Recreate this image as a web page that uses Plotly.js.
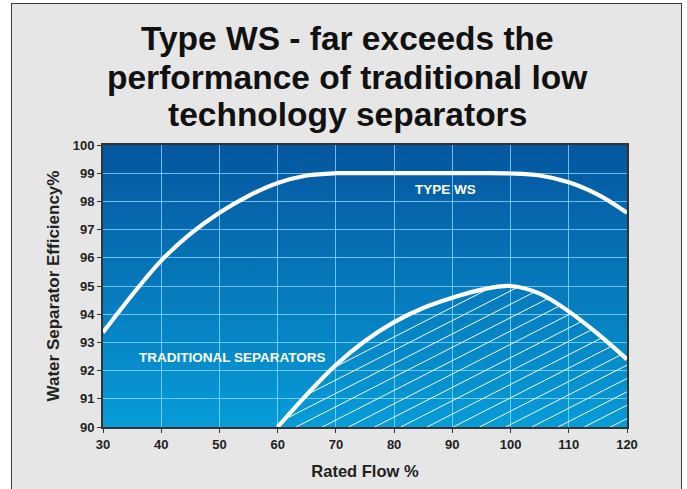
<!DOCTYPE html>
<html>
<head>
<meta charset="utf-8">
<script src="https://cdn.plot.ly/plotly-3.0.1.min.js"></script>
<style>
  html, body { margin: 0; padding: 0; background: #ffffff; overflow: hidden; }
  #frame { position: absolute; left: 11px; top: 3px; width: 671px; height: 520px;
           background: #e6e6e6; border: 1.5px solid #3a3a3a; box-sizing: border-box; }
  #chart { position: absolute; left: 0; top: 0; width: 687px; height: 489px; }
</style>
</head>
<body>
<div id="frame"></div>
<div id="chart"></div>
<script>
// ---- data ----
const titleLines = ["Type WS - far exceeds the", "performance of traditional low", "technology separators"];
const xAxisTitle = "Rated Flow %";
const yAxisTitle = "Water Separator Efficiency%";
const xTickVals = [30, 40, 50, 60, 70, 80, 90, 100, 110, 120];
const yTickVals = [90, 91, 92, 93, 94, 95, 96, 97, 98, 99, 100];

const wsFlow = [30, 35, 40, 45, 50, 55, 60, 65, 70, 75, 80, 85, 90, 95, 100, 105, 110, 115, 120];
const wsEff  = [93.35, 94.68, 95.9, 96.85, 97.6, 98.2, 98.65, 98.92, 99.0, 99.0, 99.0, 99.0, 99.0, 99.0, 98.99, 98.92, 98.68, 98.24, 97.6];
const wsLabel = "TYPE WS";

const tradFlow = [60, 65, 70, 75, 80, 85, 90, 95, 100, 105, 110, 115, 120];
const tradEff  = [90.0, 91.15, 92.2, 93.05, 93.72, 94.22, 94.58, 94.87, 95.0, 94.73, 94.1, 93.3, 92.4];
const tradLabel = "TRADITIONAL SEPARATORS";

// ---- layout geometry / style ----
const W = 687, H = 489;
const M = {l: 103, r: 60, t: 145, b: 62};
const PW = W - M.l - M.r, PH = H - M.t - M.b;
const xRange = [30, 120], yRange = [90, 100];
const FONT = "Liberation Sans, Arial, Helvetica, sans-serif";

// hatch style (pixels)
const HATCH_SLOPE_PX = 0.51;
const HATCH_GAP_PX = 26.2;
const HATCH_ANCHOR_X = 63.16;

const pxPerX = PW / (xRange[1] - xRange[0]);
const pxPerY = PH / (yRange[1] - yRange[0]);
const k = HATCH_SLOPE_PX * pxPerX / pxPerY;     // data slope
const dx = HATCH_GAP_PX / pxPerX;               // data spacing

function tradAt(x) {
  for (let i = 0; i < tradFlow.length - 1; i++) {
    if (x >= tradFlow[i] && x <= tradFlow[i + 1]) {
      const t = (x - tradFlow[i]) / (tradFlow[i + 1] - tradFlow[i]);
      return tradEff[i] + t * (tradEff[i + 1] - tradEff[i]);
    }
  }
  return null;
}

const hx = [], hy = [];
const xMin = tradFlow[0], xMax = tradFlow[tradFlow.length - 1];
for (let n = -15; n <= 15; n++) {
  const x0 = HATCH_ANCHOR_X + n * dx;
  if (x0 > xMax) continue;
  const L = x => yRange[0] + k * (x - x0);
  let first = null, last = null;
  const start = Math.max(x0, xMin);
  for (let x = start; x <= xMax + 1e-9; x += 0.01) {
    const f = tradAt(Math.min(x, xMax));
    if (f !== null && f >= L(x)) {
      if (first === null) first = x;
      last = Math.min(x, xMax);
    }
  }
  if (first !== null && last - first > 0.05) {
    hx.push(first, last, null);
    hy.push(L(first), L(last), null);
  }
}

const traces = [
  { x: hx, y: hy, mode: "lines", line: {color: "rgba(255,255,255,0.95)", width: 1},
    hoverinfo: "skip", showlegend: false, connectgaps: false },
  { x: tradFlow, y: tradEff, mode: "lines", line: {color: "#ffffff", width: 4.2, shape: "spline", smoothing: 1},
    name: tradLabel, showlegend: false },
  { x: wsFlow, y: wsEff, mode: "lines", line: {color: "#ffffff", width: 4.2, shape: "spline", smoothing: 1},
    name: wsLabel, showlegend: false }
];

function pyToPaper(py) { return (H - M.b - py) / PH; }
function pxToPaper(px) { return (px - M.l) / PW; }

const svg = "<svg xmlns='http://www.w3.org/2000/svg' width='10' height='100' preserveAspectRatio='none'>" +
  "<defs><linearGradient id='g' x1='0' y1='0' x2='0' y2='1'>" +
  "<stop offset='0' stop-color='#05569f'/><stop offset='1' stop-color='#079cd8'/>" +
  "</linearGradient></defs><rect width='10' height='100' fill='url(#g)'/></svg>";
const bgImg = "data:image/svg+xml;charset=utf-8," + encodeURIComponent(svg);

const titleCenters = [38.5, 77, 115];
const annotations = titleLines.map((t, i) => ({
  text: "<b>" + t + "</b>", xref: "paper", yref: "paper",
  x: pxToPaper(347), y: pyToPaper(titleCenters[i]), xanchor: "center", yanchor: "middle",
  showarrow: false, font: {family: FONT, size: 33.5, color: "#111111"}
}));
annotations.push({
  text: "<b>" + wsLabel + "</b>", x: 88.9, y: 98.43, xref: "x", yref: "y",
  showarrow: false, font: {family: FONT, size: 13.5, color: "#ffffff"}
});
annotations.push({
  text: "<b>" + tradLabel + "</b>", x: 52.2, y: 92.45, xref: "x", yref: "y",
  showarrow: false, font: {family: FONT, size: 13.5, color: "#ffffff"}
});

const gridColor = "rgba(135,215,255,0.8)";
const tickFont = {family: FONT, size: 13, color: "#222222", weight: "bold"};

const layout = {
  width: W, height: H,
  margin: M,
  paper_bgcolor: "rgba(0,0,0,0)",
  plot_bgcolor: "rgba(0,0,0,0)",
  showlegend: false,
  images: [{ source: bgImg, xref: "paper", yref: "paper", x: 0, y: 1, sizex: 1, sizey: 1,
             sizing: "stretch", xanchor: "left", yanchor: "top", layer: "below" }],
  xaxis: {
    range: xRange, tickmode: "array", tickvals: xTickVals, ticktext: xTickVals.map(String),
    showgrid: true, gridcolor: gridColor, gridwidth: 1, zeroline: false,
    showline: true, linecolor: "#333333", linewidth: 2, mirror: true,
    ticks: "outside", ticklen: 4, tickcolor: "#333333", tickwidth: 1,
    tickfont: tickFont,
    title: {text: "<b>" + xAxisTitle + "</b>", font: {family: FONT, size: 16.5, color: "#222222"}, standoff: 15}
  },
  yaxis: {
    range: yRange, tickmode: "array", tickvals: yTickVals, ticktext: yTickVals.map(String),
    showgrid: true, gridcolor: gridColor, gridwidth: 1, zeroline: false,
    showline: true, linecolor: "#333333", linewidth: 2, mirror: true,
    ticks: "outside", ticklen: 4, tickcolor: "#333333", tickwidth: 1,
    tickfont: tickFont,
    title: {text: "<b>" + yAxisTitle + "</b>", font: {family: FONT, size: 17, color: "#222222"}, standoff: 9}
  },
  annotations: annotations
};

Plotly.newPlot("chart", traces, layout, {displayModeBar: false, staticPlot: true});
</script>
</body>
</html>
